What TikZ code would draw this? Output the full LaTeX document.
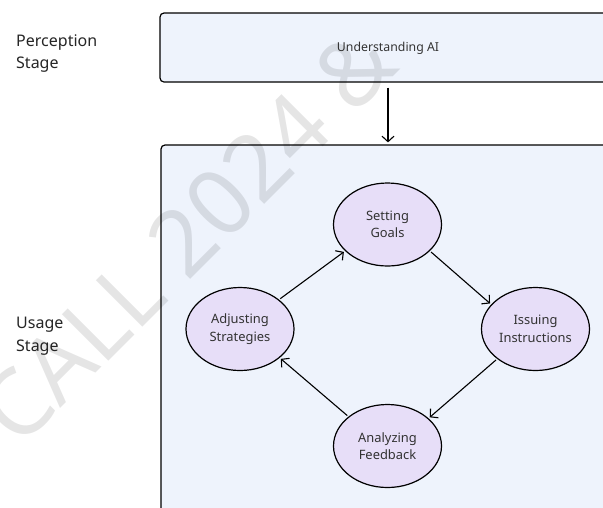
\documentclass[tikz,border=0pt]{standalone}
\usepackage{fontspec}
\setmainfont{Noto Sans}
\usetikzlibrary{arrows.meta,shapes.geometric}
\definecolor{boxfill}{HTML}{EEF3FC}
\definecolor{ellfill}{HTML}{E7DEF8}
\definecolor{txt}{HTML}{333333}
\begin{document}
\begin{tikzpicture}[x=1pt,y=-1pt,
  stagelabel/.style={anchor=west, align=left, inner sep=0, font=\fontsize{16}{22.5}\selectfont, text=black!85},
  panel/.style={draw=black, line width=1.2pt, fill=boxfill, rounded corners=4pt, inner sep=0},
  phase/.style={ellipse, draw=black, line width=1.2pt, fill=ellfill, minimum width=108pt, minimum height=83pt, inner sep=0, align=center, font=\fontsize{12.9}{17.5}\selectfont, text=txt},
  flow/.style={-{Straight Barb[length=5.5pt,width=12pt]}, line width=1.1pt, shorten >=1.5pt, shorten <=1.5pt},
  watermark/.style={rotate=45, text=black, opacity=0.1, font=\fontsize{92}{92}\selectfont}]
\useasboundingbox (0,0) rectangle (603,507);
\clip (0,0) rectangle (603,507);
\fill[white] (0,0) rectangle (603,507);

\node[stagelabel] (plabel) at (16,53.5) {Perception\\Stage};
\node[stagelabel] (ulabel) at (16,336) {Usage\\Stage};

\node[panel, minimum width=456pt, minimum height=69pt, font=\fontsize{12.3}{15}\selectfont, text=txt, text depth=1pt] (top) at (388,47.5) {Understanding AI};
\node[panel, minimum width=454pt, minimum height=395pt] (usage) at (388,342.5) {};

\draw[flow, shorten <=5pt, shorten >=2pt] (top.south) -- (usage.north);

\node[phase] (goals) at (387.5,224.5) {Setting\\Goals};
\node[phase] (instr) at (535.5,329) {Issuing\\Instructions};
\node[phase] (feed) at (387.5,446) {Analyzing\\Feedback};
\node[phase] (adj) at (240,329) {Adjusting\\Strategies};

\draw[flow] (goals.-32) -- (instr.151);
\draw[flow] (instr.-142) -- (feed.34);
\draw[flow] (feed.143) -- (adj.-36);
\draw[flow] (adj.37) -- (goals.-148);

\node[watermark] (wm) at (187,236) {CALL 2024 \&};
\end{tikzpicture}
\end{document}
